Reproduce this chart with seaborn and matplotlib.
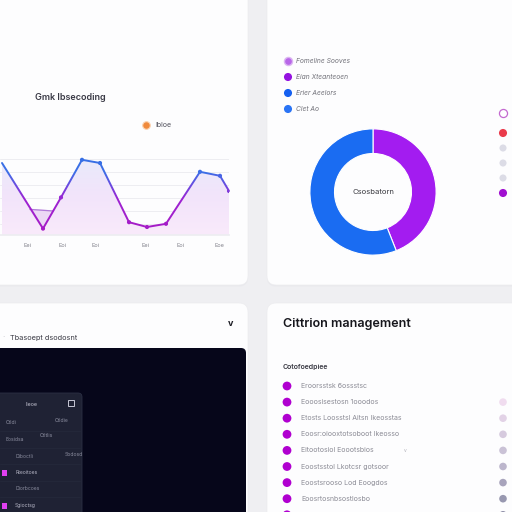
import numpy as np
import matplotlib
matplotlib.use("Agg")
import matplotlib.pyplot as plt
import seaborn as sns
from matplotlib.patches import FancyBboxPatch, Rectangle
from matplotlib.colors import LinearSegmentedColormap

# trend line (top-left card)
trend_x = [0.2, 4.3, 6.1, 8.2, 10.0, 12.9, 14.7, 16.6, 20.0, 22.0, 22.9]
trend_y = [90, 8, 47, 94, 90, 16, 10, 14, 79, 74, 55]
ref_x = [3.0, 5.3]
ref_y = [32, 30]
month_ticks = [2.7, 6.2, 9.5, 14.5, 18.0, 21.9]
month_labels = ["Eei", "Eoi", "Eoi", "Eei", "Eoi", "Eoe"]
grid_levels = [14, 30, 46, 62, 79, 95]

# donut (top-right card)
donut_values = [44, 56]
donut_colors = ["#a31cf0", "#1a6cf2"]
share_labels = ["Fomeline Sooves", "Eian Xteanteoen", "Erier Aeelors", "Clet Ao"]
share_colors = ["#b866e8", "#9412e0", "#1560f0", "#2a74f5"]
side_colors = ["#ea3b4b", "#dcdce6", "#dcdce6", "#dcdce6", "#a010d0"]

# list (bottom-right card)
list_labels = ["Eroorsstsk 6ossstsc", "Eooosisestosn 1ooodos",
               "Etosts Loosstsl Aitsn Ikeosstas", "Eoosr:oiooxtotsoboot Ikeosso",
               "Eitootosiol Eoootsbios", "Eoostsstol Lkotcsr gotsoor",
               "Eoostsrooso Lod Eoogdos", "Eoosrtosnbsostlosbo", ""]
list_right_colors = [None, "#f0dcef", "#e2d2e6", "#d6cade", "#cac2d6",
                     "#bcb6cc", "#a8a4bc", "#9898b0", "#9090a8"]

# dark panel menu (bottom-left card)
panel_rows = [("Ctldi", "Ctldie"), ("Eosidsa", "Ctltlis"), ("Diboctli", "Sbdosd"),
              ("Rteoitoes", ""), ("Diorbcoes", ""), ("Sgioctsg", "")]

sns.set_theme(style="white")
plt.rcParams['font.family'] = ['Inter', 'DejaVu Sans']

fig = plt.figure(figsize=(5.12, 5.12), dpi=100, facecolor="#efeff2")
bg = fig.add_axes([0, 0, 1, 1])
bg.set_xlim(0, 512)
bg.set_ylim(512, 0)
bg.axis("off")

card_fc = "#fdfdfe"
for (cx, cy, cw, ch) in [(-12, -12, 260, 297), (267, -12, 260, 297),
                         (-12, 303, 260, 230), (267, 303, 260, 230)]:
    bg.add_patch(FancyBboxPatch((cx, cy + 1.5), cw, ch, boxstyle="round,pad=0,rounding_size=9",
                                fc="#e6e6ea", ec="none", alpha=0.6))
    bg.add_patch(FancyBboxPatch((cx, cy), cw, ch, boxstyle="round,pad=0,rounding_size=9",
                                fc=card_fc, ec="#ececef", lw=0.5))

# ---- top-left: trend line
bg.text(35, 98, "Gmk Ibsecoding", fontsize=6.5, color="#3a3a46", va="center", fontweight="semibold")
bg.scatter([146], [125], s=30, color="#f08a3c", edgecolor="#fbd3b0", lw=0.8, zorder=3)
bg.text(155, 125, "Ibloe", fontsize=5, color="#555560", va="center")

ax1 = fig.add_axes([0, (512 - 235) / 512, 229 / 512, 80 / 512])
ax1.patch.set_alpha(0)
poly = ax1.fill_between(trend_x, trend_y, 0, color="none")
grad = np.linspace(0, 1, 256).reshape(-1, 1)
cmap_fill = LinearSegmentedColormap.from_list("f", ["#f9eafb", "#f2e4fa", "#e8ebfb"])
im = ax1.imshow(grad, extent=[0, 22.9, 0, 100], origin="lower", cmap=cmap_fill,
                aspect="auto", zorder=1)
im.set_clip_path(poly.get_paths()[0], transform=ax1.transData)

ax1.fill([ref_x[0], trend_x[1], ref_x[1]], [ref_y[0], trend_y[1], ref_y[1]],
         color="#ecd8f5", zorder=1.5)
sns.lineplot(x=ref_x, y=ref_y, ax=ax1, color="#b07ad8", lw=0.9, zorder=2)

cmap_line = LinearSegmentedColormap.from_list(
    "l", [(0, "#a81ac4"), (0.45, "#9c22d2"), (0.62, "#6a4ae0"), (0.78, "#3d6ee6"), (1, "#3470e4")])
edges = np.linspace(0, 100, 26)
for lo, hi in zip(edges[:-1], edges[1:]):
    sns.lineplot(x=trend_x, y=trend_y, ax=ax1, color=cmap_line((lo + hi) / 200), lw=1.4, zorder=3)
    clip = Rectangle((-1, lo), 30, hi - lo, transform=ax1.transData)
    ax1.lines[-1].set_clip_path(clip)
sns.scatterplot(x=trend_x[1:], y=trend_y[1:], hue=trend_y[1:], palette=cmap_line,
                hue_norm=(0, 100), s=9, edgecolor="none", legend=False, ax=ax1, zorder=4)

ax1.set_xlim(0, 22.9)
ax1.set_ylim(0, 100)
ax1.set_yticks(grid_levels)
ax1.yaxis.grid(True, color="#ededf1", lw=0.7)
ax1.set_xticks(month_ticks, month_labels)
ax1.tick_params(axis="y", length=0, labelleft=False)
ax1.tick_params(axis="x", length=0, labelsize=4, labelcolor="#80808a", pad=6)
for s in ["top", "right", "left"]:
    ax1.spines[s].set_visible(False)
ax1.spines["bottom"].set_color("#ededf1")
ax1.set_xlabel("")
ax1.set_ylabel("")

# ---- top-right: donut
ax2 = fig.add_axes([(373 - 65) / 512, (512 - 192 - 65) / 512, 130 / 512, 130 / 512])
ax2.pie(donut_values, colors=donut_colors, startangle=90, counterclock=False, radius=1,
        wedgeprops=dict(width=0.39, edgecolor="white", linewidth=0.8))
ax2.set_xlim(-1.03, 1.03)
ax2.set_ylim(-1.03, 1.03)
ax2.text(0, 0, "Csosbatorn", fontsize=5.5, color="#3a3a40", ha="center", va="center")

for i, (lab, col) in enumerate(zip(share_labels, share_colors)):
    y = 61 + 16 * i
    bg.scatter([288], [y], s=34, color=col, edgecolor="#dcb6f2" if i == 0 else "none", lw=1, zorder=3)
    bg.text(296, y, lab, fontsize=4.8, color="#707078", style="italic", va="center")

bg.scatter([503], [113], s=34, color="white", edgecolor="#c46ad0", lw=0.9, zorder=3)
for i, col in enumerate(side_colors):
    bg.scatter([503], [133 + 15 * i], s=34 if i in (0, 4) else 26, color=col, edgecolor="none", zorder=3)

# ---- bottom-left: dark panel
bg.text(2, 338, "·", fontsize=6, color="#b0b0b8", va="center")
bg.text(10, 338, "Tbasoept dsodosnt", fontsize=5.3, color="#3a3a44", va="center")
bg.text(231, 323, "v", fontsize=6.5, color="#1a1a22", ha="center", va="center", fontweight="bold")
bg.add_patch(FancyBboxPatch((-12, 348), 258, 180, boxstyle="round,pad=0,rounding_size=5",
                            fc="#06061a", ec="none"))
bg.add_patch(FancyBboxPatch((-12, 393), 94, 130, boxstyle="round,pad=0,rounding_size=4",
                            fc="#1f2234", ec="#2b2f44", lw=0.6))
bg.text(25, 404, "Iieoe", fontsize=3.8, color="#c8c8d6", va="center")
bg.add_patch(Rectangle((68, 400), 6, 6, fc="none", ec="#c8c8d6", lw=0.7))
for i, (a, b) in enumerate(panel_rows):
    y = 423 + 16.5 * i
    if i in (3, 5):
        bg.add_patch(Rectangle((1.5, y - 3), 5, 6, fc="#e040f0", ec="none"))
        bg.text(15, y, a, fontsize=3.6, color="#b8b8c8", va="center")
    else:
        bg.text(6 if i < 2 else 15, y, a, fontsize=3.6, color="#8a8c9e", va="center")
    if b:
        bg.text(55 if i == 0 else (40 if i == 1 else 65), y - (4 if i == 1 else 2), b,
                fontsize=3.6, color="#8a8c9e", va="center")
    bg.plot([0, 80], [y + 8, y + 8], color="#262a3c", lw=0.5)

# ---- bottom-right: list
bg.text(283, 324, "Cittrion management", fontsize=9, color="#16161c", va="center", fontweight="semibold")
bg.text(283, 367, "Cotofoedpiee", fontsize=5, color="#3a3a44", va="center", fontweight="semibold")
for i, (lab, rc) in enumerate(zip(list_labels, list_right_colors)):
    y = 386 + 16.1 * i
    bg.scatter([287], [y], s=40, color="#b000d0", edgecolor="none", zorder=3)
    if lab:
        bg.text(301, y, lab, fontsize=5, color="#8c8c96", va="center")
    if rc:
        bg.scatter([503], [y], s=30, color=rc, edgecolor="none", zorder=3)
bg.text(404, 450, "v", fontsize=3.5, color="#b0b0b8", va="center")

fig.savefig("out.png", dpi=100, facecolor=fig.get_facecolor())
